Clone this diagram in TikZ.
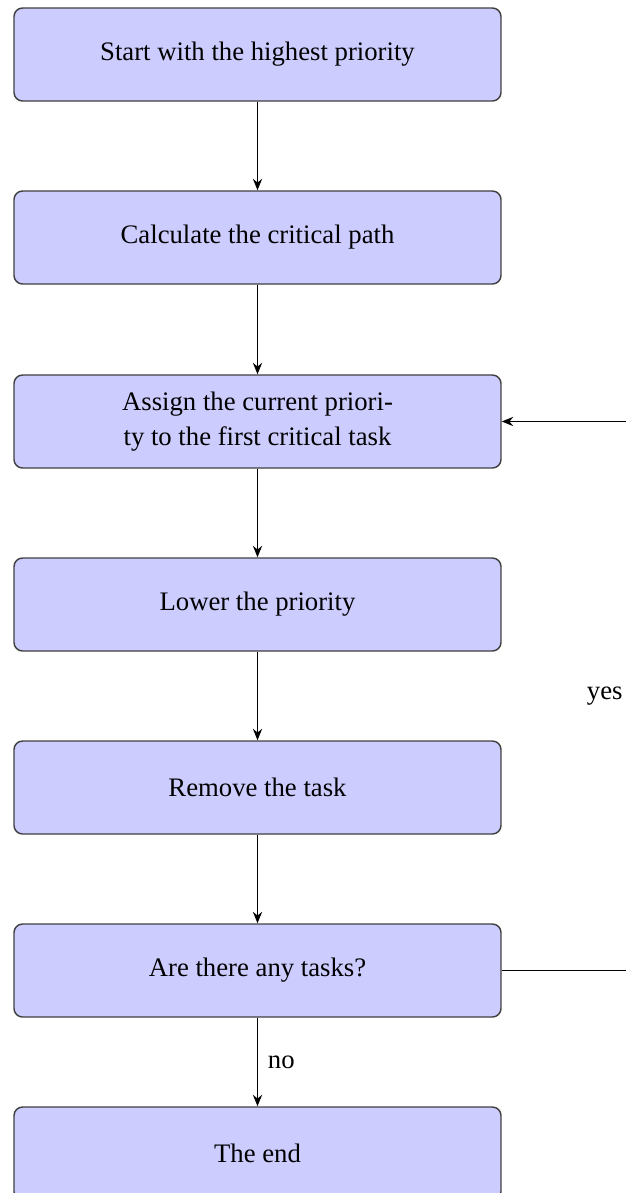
\documentclass[tikz,border=0pt]{standalone}
\usepackage{fontspec}
\setmainfont{Liberation Serif}
\usetikzlibrary{arrows.meta}
\tikzset{
  stepbox/.style={draw=black!75, line width=0.5pt, fill=blue!20, rounded corners=3pt,
    minimum width=170.45pt, minimum height=32.55pt, align=center,
    inner sep=3pt, font=\fontsize{9.35}{12.2}\selectfont},
  conn/.style={line width=0.65pt, -{Stealth[length=4pt,width=3.2pt]}},
  lbl/.style={font=\fontsize{9.35}{12.2}\selectfont}
}
\begin{document}
\begin{tikzpicture}[x=0.35pt, y=-0.35pt]
\useasboundingbox (0,0) rectangle (625,1193);
\node[stepbox] (start) at (257.5,54.5) {Start with the highest priority};
\node[stepbox] (calc) at (257.5,237.5) {Calculate the critical path};
\node[stepbox] (assign) at (257.5,421.5) {Assign the current priori-\\ty to the first critical task};
\node[stepbox] (lower) at (257.5,604.5) {Lower the priority};
\node[stepbox] (remove) at (257.5,787.5) {Remove the task};
\node[stepbox] (decide) at (257.5,970.5) {Are there any tasks?};
\node[stepbox] (stop) at (257.5,1153.5) {The end};
\coordinate (r1) at (633,970.5);
\coordinate (r2) at (633,421.5);
\draw[conn] (start) -- (calc);
\draw[conn] (calc) -- (assign);
\draw[conn] (assign) -- (lower);
\draw[conn] (lower) -- (remove);
\draw[conn] (remove) -- (decide);
\draw[conn] (decide) -- node[lbl, midway, right] {no} (stop);
\draw[conn] (decide) -- (r1) -- node[lbl, midway, left] {yes} (r2) -- (assign);
\end{tikzpicture}
\end{document}
